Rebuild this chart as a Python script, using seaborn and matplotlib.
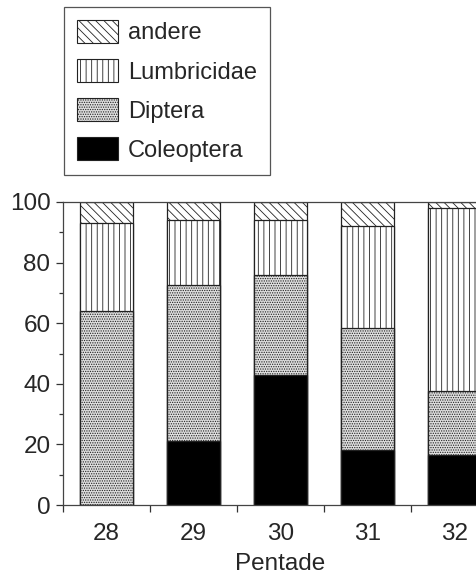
import numpy as np
import pandas as pd
import matplotlib
matplotlib.use("Agg")
import matplotlib.pyplot as plt
from matplotlib.patches import Patch
from matplotlib.ticker import MultipleLocator, FixedLocator
import seaborn as sns

pentade = ["28", "29", "30", "31", "32"]
coleoptera = [0, 21, 43, 18, 16.5]
diptera = [64, 51.5, 33, 40.5, 21]
lumbricidae = [29, 21.5, 18, 33.5, 60.5]
andere = [7, 6, 6, 8, 2]

series = [("Coleoptera", coleoptera), ("Diptera", diptera),
          ("Lumbricidae", lumbricidae), ("andere", andere)]
styles = {
    "Coleoptera": dict(color="black", hatch=None),
    "Diptera": dict(color="#dedede", hatch="......."),
    "Lumbricidae": dict(color="white", hatch="|||"),
    "andere": dict(color="white", hatch="\\\\\\\\"),
}

sns.set_style("white")
plt.rcParams["font.family"] = ["Liberation Sans", "DejaVu Sans"]
plt.rcParams["hatch.linewidth"] = 0.6
plt.rcParams["hatch.color"] = "#222222"

fig = plt.figure(figsize=(4.76, 5.74), dpi=100)
W, H = 476, 574
ax = fig.add_axes([63 / W, 69 / H, 435 / W, 303 / H])

cum = np.zeros(len(pentade))
layers = []
for name, vals in series:
    cum = cum + np.array(vals, dtype=float)
    layers.append((name, cum.copy()))

# draw from top-most cumulative down so lower layers overlay
for name, c in reversed(layers):
    d = pd.DataFrame({"Pentade": pentade, "val": c})
    st = styles[name]
    sns.barplot(data=d, x="Pentade", y="val", color=st["color"], saturation=1,
                width=0.61, edgecolor="#222222", linewidth=0.9,
                hatch=st["hatch"], ax=ax, zorder=2)

ax.set_xlim(-0.5, 4.5)
ax.set_ylim(0, 100)
ax.yaxis.set_major_locator(MultipleLocator(20))
ax.yaxis.set_minor_locator(MultipleLocator(10))
ax.xaxis.set_minor_locator(FixedLocator([-0.5, 0.5, 1.5, 2.5, 3.5]))
ax.tick_params(axis="y", which="major", direction="out", length=5, width=0.9,
               labelsize=17.5, pad=4, left=True, color="#333333")
ax.tick_params(axis="y", which="minor", direction="out", length=3, width=0.9,
               left=True, color="#333333")
ax.tick_params(axis="x", which="major", length=0, labelsize=17.5, pad=13)
ax.tick_params(axis="x", which="minor", direction="out", length=5, width=0.9,
               bottom=True, color="#333333")
ax.set_ylabel("")
ax.set_xlabel("Pentade", fontsize=17.5, labelpad=6)
for s in ["left", "bottom", "top", "right"]:
    ax.spines[s].set_visible(True)
    ax.spines[s].set_color("#444444")
    ax.spines[s].set_linewidth(0.9)

handles = []
for name in ["andere", "Lumbricidae", "Diptera", "Coleoptera"]:
    st = styles[name]
    handles.append(Patch(facecolor=st["color"], edgecolor="#222222",
                         hatch=st["hatch"], linewidth=0.8, label=name))
leg = fig.legend(handles=handles, loc="upper left",
                 bbox_to_anchor=(64 / W, 1 - 7 / H), borderaxespad=0,
                 fontsize=17, frameon=True, fancybox=False, framealpha=1,
                 edgecolor="#555555", handlelength=1.72, handleheight=1.12,
                 handletextpad=0.45, labelspacing=0.62, borderpad=0.55)
leg.get_frame().set_linewidth(0.9)

fig.savefig("out.png", dpi=100)
